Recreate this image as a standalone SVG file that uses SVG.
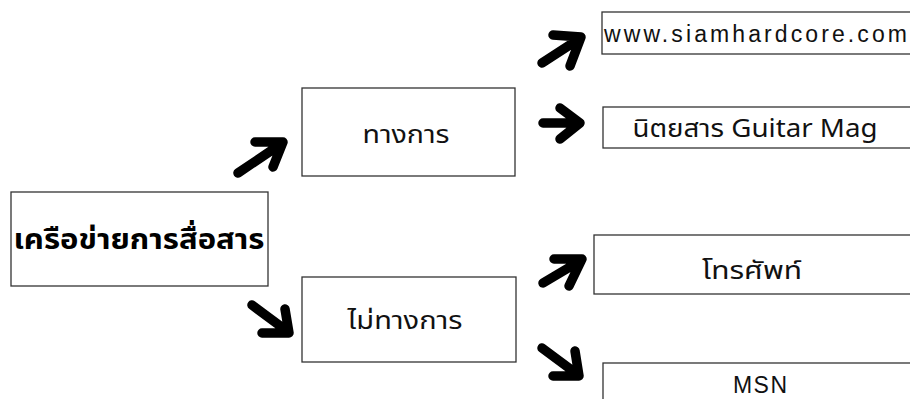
<svg xmlns="http://www.w3.org/2000/svg" width="910" height="399" viewBox="0 0 910 399">
<style>
.box{fill:#fff;stroke:#333;stroke-width:1.3}
.arr{fill:none;stroke:#000;stroke-width:9.5;stroke-linecap:round;stroke-linejoin:round}
.t{font-family:"Noto Sans Thai","Liberation Sans","DejaVu Sans",sans-serif;font-size:25px;fill:#111;text-anchor:middle}
.l{font-family:"Liberation Sans",Arial,sans-serif;font-size:23px;fill:#111}
.m{font-weight:bold;font-size:28px;fill:#000}
</style>
<rect width="910" height="399" fill="#fff"/>
<g id="connectors">
<path class="arr" d="M238,173 L281,144 M255,142 L283,142 L273,167"/>
<path class="arr" d="M252,305 L287,331 M262,333 L289,333 L285,309"/>
<path class="arr" d="M542,63 L579,39 M553,35 L581,37 L570,66"/>
<path class="arr" d="M543,123 L579,123 M560,108 L580,123 L560,139"/>
<path class="arr" d="M543,283 L580,261 M554,259 L582,259 L569,286"/>
<path class="arr" d="M542,348 L577,374 M553,376 L579,376 L575,351"/>
</g>
<g id="node-main">
<rect class="box" x="11" y="192" width="257" height="94"/>
<text class="t m" x="139" y="249" textLength="251" lengthAdjust="spacingAndGlyphs">เครือข่ายการสื่อสาร</text>
</g>
<g id="node-formal">
<rect class="box" x="302" y="88" width="213" height="88"/>
<text class="t" x="406" y="143" textLength="87" lengthAdjust="spacingAndGlyphs">ทางการ</text>
</g>
<g id="node-informal">
<rect class="box" x="302" y="277" width="214" height="85"/>
<text class="t" x="405" y="329" textLength="115" lengthAdjust="spacingAndGlyphs">ไม่ทางการ</text>
</g>
<g id="node-www">
<rect class="box" x="602" y="12" width="320" height="42"/>
<text class="l" x="604" y="42" textLength="303" lengthAdjust="spacing">www.siamhardcore.com</text>
</g>
<g id="node-guitar">
<rect class="box" x="603" y="107" width="320" height="41"/>
<text class="t" x="755" y="137" textLength="245" lengthAdjust="spacingAndGlyphs">นิตยสาร Guitar Mag</text>
</g>
<g id="node-phone">
<rect class="box" x="594" y="235" width="330" height="59"/>
<text class="t" x="752" y="279" textLength="100" lengthAdjust="spacingAndGlyphs">โทรศัพท์</text>
</g>
<g id="node-msn">
<rect class="box" x="603" y="363" width="320" height="50"/>
<text class="l" x="760" y="393" text-anchor="middle" textLength="54" lengthAdjust="spacing">MSN</text>
</g>
</svg>
